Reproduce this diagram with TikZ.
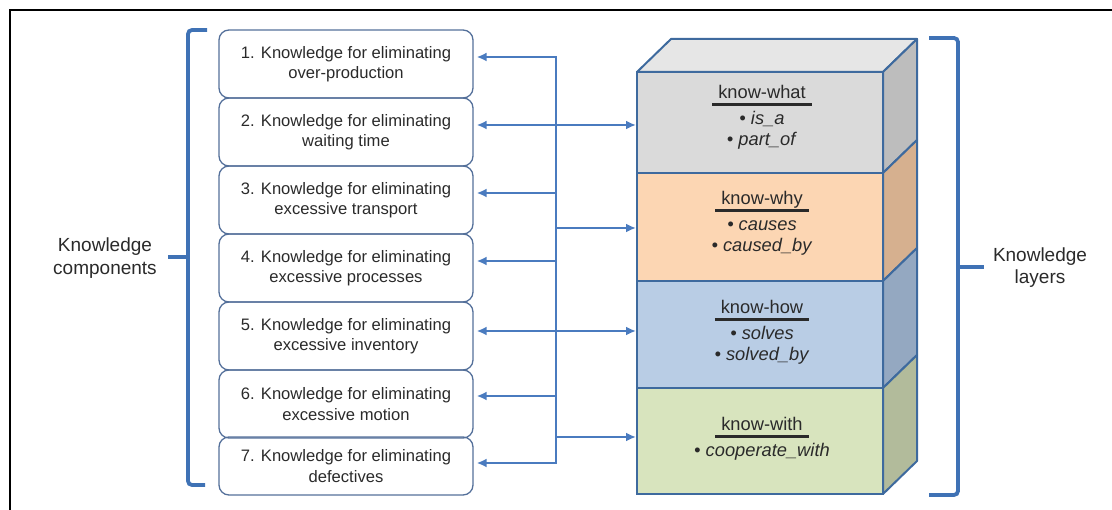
\documentclass[tikz,border=0pt]{standalone}
\usepackage{fontspec}
\setmainfont{Liberation Sans}
\usetikzlibrary{arrows.meta}

\definecolor{linkblue}{HTML}{4A7BBF}
\definecolor{bracecol}{HTML}{3F72B5}
\definecolor{boxedge}{HTML}{54709A}
\definecolor{cubeedge}{HTML}{3E6A9E}
\definecolor{whatfront}{HTML}{DADADA}
\definecolor{whattop}{HTML}{E6E6E6}
\definecolor{whatside}{HTML}{BDBDBD}
\definecolor{whyfront}{HTML}{FCD6B3}
\definecolor{whyside}{HTML}{D6B08F}
\definecolor{howfront}{HTML}{B9CDE5}
\definecolor{howside}{HTML}{94A8C1}
\definecolor{withfront}{HTML}{D8E4BE}
\definecolor{withside}{HTML}{B2BB9B}
\definecolor{txt}{HTML}{2A2A2A}

% layer heading with a heavy rule a fixed distance below the baseline
\newcommand\layertitle[1]{\vtop{\hbox{\kern6pt\raisebox{0pt}[\height][0pt]{#1}\kern6pt}\kern5pt\hrule height 2.4pt}}

\tikzset{
  kbox/.style={draw=boxedge, line width=1.3pt, rounded corners=10pt,
    minimum width=254pt, minimum height=68pt, inner sep=0pt, align=center,
    text=txt, font=\fontsize{16.6}{20.5}\selectfont},
  layerface/.style={draw=cubeedge, line width=2pt, minimum width=246pt, inner sep=0pt},
  cubeface/.style={draw=cubeedge, line width=2pt, line join=round},
  laytext/.style={align=center, inner sep=0pt, text=txt,
    font=\fontsize{18.3}{21}\selectfont},
  sidelabel/.style={align=center, inner sep=0pt, text=txt,
    font=\fontsize{19}{23}\selectfont},
  link/.style={draw=linkblue, line width=2.4pt},
  tip/.style={-{Latex[length=10pt,width=9pt]}},
  bothtips/.style={{Latex[length=10pt,width=9pt]}-{Latex[length=10pt,width=9pt]}},
  brace/.style={draw=bracecol, line width=3.8pt, rounded corners=4pt},
}

\begin{document}
\begin{tikzpicture}[x=1pt,y=-1pt]
\useasboundingbox (0,0) rectangle (1112,510);

% outer frame (left and top edges)
\draw[line width=2.2pt] (10,510) -- (10,10) -- (1112,10);

% knowledge components
\node[kbox] (b1) at (346,64)  {1. Knowledge for eliminating\\over-production};
\node[kbox] (b2) at (346,132) {2. Knowledge for eliminating\\waiting time};
\node[kbox] (b3) at (346,200) {3. Knowledge for eliminating\\excessive transport};
\node[kbox] (b4) at (346,268) {4. Knowledge for eliminating\\excessive processes};
\node[kbox] (b5) at (346,336) {5. Knowledge for eliminating\\excessive inventory};
\node[kbox] (b6) at (346,404) {6. Knowledge for eliminating\\excessive motion};
\node[kbox, minimum height=58pt] (b7) at (346,466) {7. Knowledge for eliminating\\defectives};

% knowledge layers: top and side faces of the block
\draw[cubeface, fill=whattop]  (637,72) -- (671,39) -- (917,39) -- (883,72) -- cycle;
\draw[cubeface, fill=whatside] (883,72)  -- (917,39)  -- (917,140) -- (883,173) -- cycle;
\draw[cubeface, fill=whyside]  (883,173) -- (917,140) -- (917,248) -- (883,281) -- cycle;
\draw[cubeface, fill=howside]  (883,281) -- (917,248) -- (917,355) -- (883,388) -- cycle;
\draw[cubeface, fill=withside] (883,388) -- (917,355) -- (917,461) -- (883,494) -- cycle;

% front faces
\node[layerface, fill=whatfront, minimum height=101pt] (kwhat) at (760,122.5) {};
\node[layerface, fill=whyfront,  minimum height=108pt] (kwhy)  at (760,227)   {};
\node[layerface, fill=howfront,  minimum height=107pt] (khow)  at (760,334.5) {};
\node[layerface, fill=withfront, minimum height=106pt] (kwith) at (760,441)   {};

\node[laytext] (twhat) at (762,117) {\layertitle{know-what}\\[5pt]\textit{• is\_a}\\\textit{• part\_of}};
\node[laytext] (twhy)  at (762,223) {\layertitle{know-why}\\[5pt]\textit{• causes}\\\textit{• caused\_by}};
\node[laytext] (thow)  at (762,332) {\layertitle{know-how}\\[5pt]\textit{• solves}\\\textit{• solved\_by}};
\node[laytext] (twith) at (762,438.5) {\layertitle{know-with}\\[5pt]\textit{• cooperate\_with}};

% braces and their labels
\draw[brace] (207,30) -- (188,30) -- (188,485) -- (205,485);
\draw[brace, rounded corners=2pt] (188,257) -- (168,257);
\node[sidelabel] (lcomp) at (105,258.5) {Knowledge\\components};

\draw[brace] (929,38) -- (958,38) -- (958,495) -- (929,495);
\draw[brace, rounded corners=2pt] (958,267) -- (984,267);
\node[sidelabel, font=\fontsize{19}{22}\selectfont] (rlay) at (1040,267.5) {Knowledge\\layers};

% distribution trunk
\coordinate (trunktop) at (556,57);
\coordinate (trunkbot) at (556,463);
\coordinate (j3)  at (556,193);
\coordinate (j4)  at (556,261);
\coordinate (j6)  at (556,396);
\coordinate (jwy) at (556,228);
\coordinate (jwt) at (556,437);

\draw[link, bothtips, shorten <=3pt, shorten >=3pt]
  (trunktop -| b1.east) -- (trunktop) -- (trunkbot) -- (trunkbot -| b7.east);
\draw[link, tip, shorten >=3pt] (j3) -- (j3 -| b3.east);
\draw[link, tip, shorten >=3pt] (j4) -- (j4 -| b4.east);
\draw[link, tip, shorten >=3pt] (j6) -- (j6 -| b6.east);

% links between components and layers
\draw[link, bothtips, shorten <=3pt] ([yshift=7pt]b2.east) -- ([yshift=7pt]b2.east -| kwhat.west);
\draw[link, bothtips, shorten <=3pt] ([yshift=5pt]b5.east) -- ([yshift=5pt]b5.east -| khow.west);
\draw[link, tip] (jwy) -- (jwy -| kwhy.west);
\draw[link, tip] (jwt) -- (jwt -| kwith.west);
\end{tikzpicture}
\end{document}
